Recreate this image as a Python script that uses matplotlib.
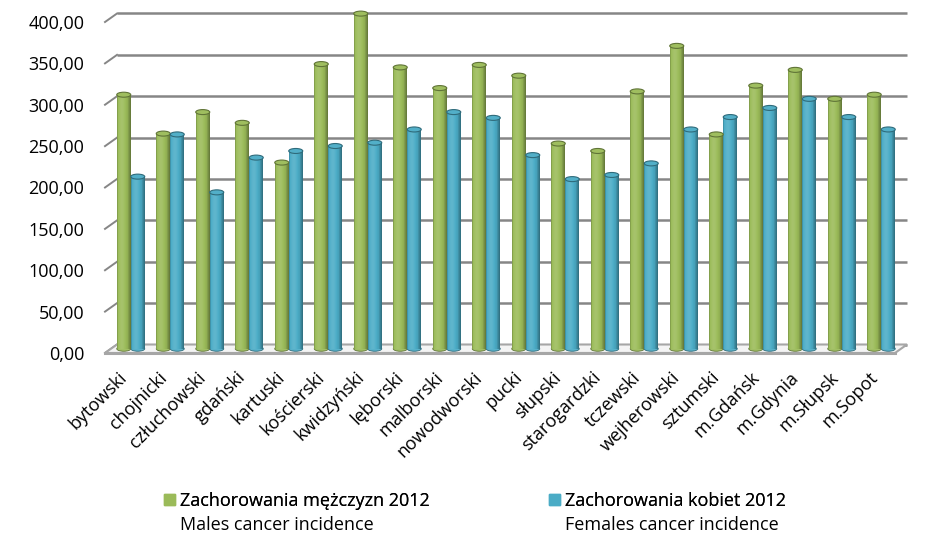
import matplotlib
matplotlib.use("Agg")
import matplotlib.pyplot as plt
import numpy as np
from matplotlib.patches import Ellipse, Polygon, Patch
from matplotlib.colors import to_rgb

plt.rcParams['font.family'] = ['Open Sans', 'DejaVu Sans']

districts = ["bytowski", "chojnicki", "człuchowski", "gdański", "kartuski", "kościerski",
             "kwidzyński", "lęborski", "malborski", "nowodworski", "pucki", "słupski",
             "starogardzki", "tczewski", "wejherowski", "sztumski", "m.Gdańsk", "m.Gdynia",
             "m.Słupsk", "m.Sopot"]
males = [307, 260, 286, 273, 225, 344, 405, 340, 315, 343, 330, 248, 239, 311, 366, 259, 318, 337, 302, 307]
females = [208, 259, 189, 231, 239, 245, 249, 265, 286, 279, 234, 205, 210, 224, 265, 280, 291, 302, 280, 265]
yticks = list(range(0, 401, 50))
names = ["Zachorowania mężczyzn 2012", "Zachorowania kobiet 2012"]
subnames = ["Males cancer incidence", "Females cancer incidence"]
colors = ["#9BBB59", "#4BACC6"]

W, H = 945, 542
fig = plt.figure(figsize=(W / 100, H / 100), dpi=100)

# front plane of the fake 3d box, in pixels
fx0, fx1, fy0, fy1 = 105, 895, 353, 22
ax = fig.add_axes([fx0 / W, 1 - fy0 / H, (fx1 - fx0) / W, (fy0 - fy1) / H])
n = len(districts)
ax.set_xlim(-0.5, n - 0.5)
ax.set_ylim(0, 400)
for s in ax.spines.values():
    s.set_visible(False)

px_x = (fx1 - fx0) / n
px_y = (fy0 - fy1) / 400
dx, dy = 12 / px_x, 8.5 / px_y      # depth of box
bw = 14 / px_x                      # bar width
eh = 5 / px_y                       # ellipse height of cylinder cap
idx = np.arange(n)

# back wall gridlines + left diagonals
for v in yticks:
    ax.plot([-0.5 + dx, n - 0.5 + dx], [v + dy, v + dy], color="#868686", lw=1.8,
            clip_on=False, zorder=1, solid_capstyle="butt")
    ax.plot([-0.5, -0.5 + dx], [v, v + dy], color="#868686", lw=1.4, clip_on=False, zorder=1)

floor = Polygon([(-0.5, 0), (n - 0.5, 0), (n - 0.5 + dx, dy), (-0.5 + dx, dy)],
                closed=True, facecolor="#f4f4f4", edgecolor="#a6a6a6", lw=1.5,
                clip_on=False, zorder=1.5)
ax.add_patch(floor)
ax.plot([-0.5, n - 0.5], [0, 0], color="#a6a6a6", lw=2.2, clip_on=False, zorder=1.6)


def shade(c, t):
    base = np.array(to_rgb(c))
    k = 0.9 + 0.22 * np.exp(-((t - 0.35) / 0.3) ** 2) - 0.28 * max(t - 0.75, 0) / 0.25
    if t < 0.08:
        k -= 0.12
    if k > 1:
        return tuple(base + (1 - base) * (k - 1) * 0.9)
    return tuple(base * k)


ns = 14
for si, (vals, col) in enumerate(zip([males, females], colors)):
    vals = np.array(vals, dtype=float)
    centers = idx + dx / 2 + (si - 0.5) * bw
    for c, v in zip(centers, vals):
        ax.add_patch(Ellipse((c, dy / 2), bw, eh, facecolor=shade(col, 0.5),
                             edgecolor=shade(col, 1.0), lw=0.6, clip_on=False, zorder=2))
    for j in range(ns):
        t = (j + 0.5) / ns
        ax.bar(centers - bw / 2 + j * bw / ns, vals, width=bw / ns * 1.02, bottom=dy / 2,
               align="edge", color=shade(col, t), linewidth=0, clip_on=False, zorder=3)
    for c, v in zip(centers, vals):
        ax.add_patch(Ellipse((c, v + dy / 2), bw, eh, facecolor=shade(col, 0.55),
                             edgecolor=shade(col, 1.0), lw=0.8, clip_on=False, zorder=4))

ax.set_yticks(yticks)
ax.set_yticklabels([f"{v:.2f}".replace(".", ",") for v in yticks])
ax.tick_params(axis="y", length=0, pad=15, labelsize=13)
ax.set_xticks(idx + dx / 2)
ax.set_xticklabels(districts, rotation=45, ha="right", va="top")
ax.tick_params(axis="x", length=0, pad=11, labelsize=13)

# legend
leg_x = [164, 549]
for i in range(2):
    leg = fig.legend(handles=[Patch(color=colors[i])], labels=[names[i]], loc="center left",
                     bbox_to_anchor=(leg_x[i] / W, 1 - 501 / H), frameon=False, fontsize=13,
                     handlelength=0.6, handleheight=0.6, handletextpad=0.3, borderpad=0,
                     borderaxespad=0)
    fig.add_artist(leg)
    fig.canvas.draw()
    bb = leg.get_texts()[0].get_window_extent()
    fig.text(bb.x0 / W, 1 - 525 / H, subnames[i], fontsize=13, va="center", ha="left")

fig.savefig("out.png", dpi=100)
